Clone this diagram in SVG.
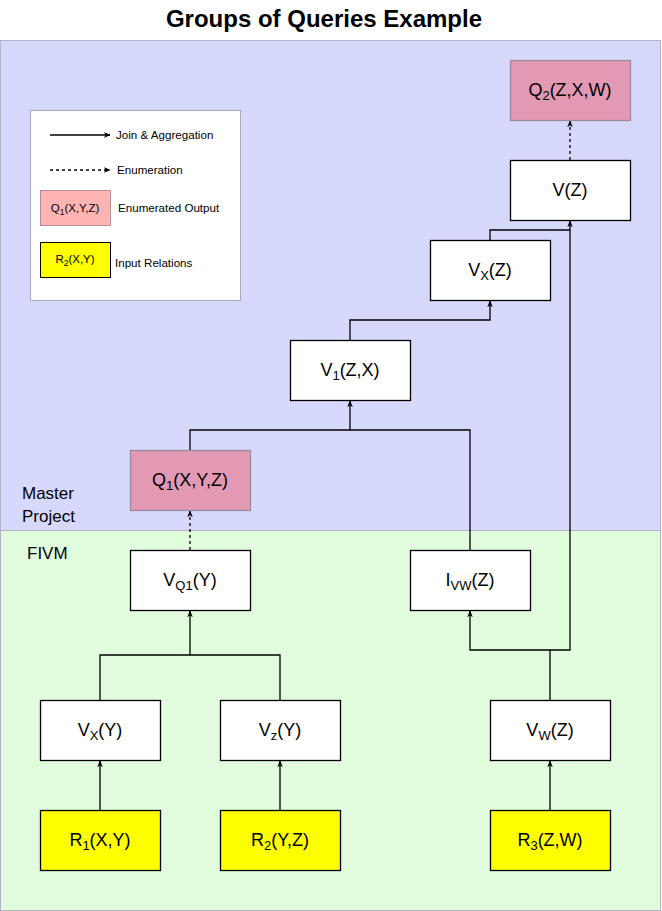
<svg xmlns="http://www.w3.org/2000/svg" width="662" height="911" viewBox="0 0 662 911">
<style>
.t{font-family:"Liberation Sans",Arial,sans-serif;fill:#000}
.nt{font-size:18px;text-anchor:middle}
.sub{font-size:13px}
.box{fill:#fff;stroke:#000;stroke-width:1.3}
.q{fill:#E399B3;stroke:#9a8a9a;stroke-width:1.3}
.r{fill:#FFFF00;stroke:#000;stroke-width:1.3}
.c{fill:none;stroke:#000;stroke-width:1.3}
.d{fill:none;stroke:#000;stroke-width:1.3;stroke-dasharray:3,3}
.lg{font-size:11.6px}
</style>
<defs>
<marker id="ah" viewBox="0 0 10 10" refX="9" refY="5" markerWidth="7" markerHeight="7" orient="auto" markerUnits="userSpaceOnUse">
<path d="M0,1 L10,5 L0,9 L3,5 Z" fill="#000"/>
</marker>
</defs>
<rect x="0" y="0" width="662" height="911" fill="#fff"/>
<text class="t" x="324" y="27" font-size="24" font-weight="bold" text-anchor="middle">Groups of Queries Example</text>
<g id="master">
<rect x="0.5" y="40.5" width="660" height="490" fill="#D7D9FC" stroke="#B0B4C8"/>
<text class="t" x="22" y="499" font-size="17">Master</text>
<text class="t" x="22" y="522" font-size="17">Project</text>
</g>
<g id="fivm">
<rect x="0.5" y="530.5" width="660" height="380" fill="#E0FCDD" stroke="#B0B4C8"/>
<text class="t" x="27" y="559" font-size="17">FIVM</text>
</g>
<g id="legend">
<rect x="30.5" y="110.5" width="210" height="190" fill="#fff" stroke="#A8A8C0"/>
<line class="c" x1="50" y1="135" x2="110" y2="135" marker-end="url(#ah)"/>
<text class="t lg" x="116" y="139">Join &amp; Aggregation</text>
<line class="d" x1="50" y1="170" x2="110" y2="170" marker-end="url(#ah)"/>
<text class="t lg" x="117" y="174">Enumeration</text>
<rect x="40.5" y="190.5" width="70" height="35" fill="#FFB3B3" stroke="#b09090"/>
<text class="t" x="75" y="212" font-size="11.5" text-anchor="middle">Q<tspan dy="3" font-size="8.5">1</tspan><tspan dy="-3">(X,Y,Z)</tspan></text>
<text class="t lg" x="118" y="212">Enumerated Output</text>
<rect x="40.5" y="242.5" width="70" height="35" fill="#FFFF00" stroke="#000"/>
<text class="t" x="75" y="263" font-size="11.5" text-anchor="middle">R<tspan dy="3" font-size="8.5">2</tspan><tspan dy="-3">(X,Y)</tspan></text>
<text class="t lg" x="115" y="267">Input Relations</text>
</g>
<g id="connectors">
<line class="c" x1="100" y1="810" x2="100" y2="761" marker-end="url(#ah)"/>
<line class="c" x1="280" y1="810" x2="280" y2="761" marker-end="url(#ah)"/>
<line class="c" x1="550" y1="810" x2="550" y2="761" marker-end="url(#ah)"/>
<polyline class="c" points="100,700 100,655 280,655 280,700"/>
<line class="c" x1="190" y1="655" x2="190" y2="611" marker-end="url(#ah)"/>
<line class="d" x1="190" y1="550" x2="190" y2="511" marker-end="url(#ah)"/>
<polyline class="c" points="190,450 190,430 470,430 470,550"/>
<line class="c" x1="350" y1="430" x2="350" y2="401" marker-end="url(#ah)"/>
<polyline class="c" points="350,340 350,320 490,320 490,301" marker-end="url(#ah)"/>
<polyline class="c" points="490,240 490,230 570,230"/>
<polyline class="c" points="550,700 550,650 470,650 470,611" marker-end="url(#ah)"/>
<polyline class="c" points="550,650 570,650 570,221" marker-end="url(#ah)"/>
<line class="d" x1="570" y1="160" x2="570" y2="121" marker-end="url(#ah)"/>
</g>
<g id="Q2"><rect class="q" x="510.5" y="60.5" width="120" height="60"/><text class="t nt" x="570" y="96">Q<tspan class="sub" dy="4">2</tspan><tspan dy="-4">(Z,X,W)</tspan></text></g>
<g id="VZ"><rect class="box" x="510.5" y="160.5" width="120" height="60"/><text class="t nt" x="570" y="196">V(Z)</text></g>
<g id="VxZ"><rect class="box" x="430.5" y="240.5" width="120" height="60"/><text class="t nt" x="490" y="276">V<tspan class="sub" dy="4">X</tspan><tspan dy="-4">(Z)</tspan></text></g>
<g id="V1"><rect class="box" x="290.5" y="340.5" width="120" height="60"/><text class="t nt" x="350" y="376">V<tspan class="sub" dy="4">1</tspan><tspan dy="-4">(Z,X)</tspan></text></g>
<g id="Q1"><rect class="q" x="130.5" y="450.5" width="120" height="60"/><text class="t nt" x="190" y="486">Q<tspan class="sub" dy="4">1</tspan><tspan dy="-4">(X,Y,Z)</tspan></text></g>
<g id="VQ1"><rect class="box" x="130.5" y="550.5" width="120" height="60"/><text class="t nt" x="190" y="586">V<tspan class="sub" dy="4">Q1</tspan><tspan dy="-4">(Y)</tspan></text></g>
<g id="IVW"><rect class="box" x="410.5" y="550.5" width="120" height="60"/><text class="t nt" x="470" y="586">I<tspan class="sub" dy="4">VW</tspan><tspan dy="-4">(Z)</tspan></text></g>
<g id="VxY"><rect class="box" x="40.5" y="700.5" width="120" height="60"/><text class="t nt" x="100" y="736">V<tspan class="sub" dy="4">X</tspan><tspan dy="-4">(Y)</tspan></text></g>
<g id="VzY"><rect class="box" x="220.5" y="700.5" width="120" height="60"/><text class="t nt" x="280" y="736">V<tspan class="sub" dy="4">z</tspan><tspan dy="-4">(Y)</tspan></text></g>
<g id="VwZ"><rect class="box" x="490.5" y="700.5" width="120" height="60"/><text class="t nt" x="550" y="736">V<tspan class="sub" dy="4">W</tspan><tspan dy="-4">(Z)</tspan></text></g>
<g id="R1"><rect class="r" x="40.5" y="810.5" width="120" height="60"/><text class="t nt" x="100" y="846">R<tspan class="sub" dy="4">1</tspan><tspan dy="-4">(X,Y)</tspan></text></g>
<g id="R2"><rect class="r" x="220.5" y="810.5" width="120" height="60"/><text class="t nt" x="280" y="846">R<tspan class="sub" dy="4">2</tspan><tspan dy="-4">(Y,Z)</tspan></text></g>
<g id="R3"><rect class="r" x="490.5" y="810.5" width="120" height="60"/><text class="t nt" x="550" y="846">R<tspan class="sub" dy="4">3</tspan><tspan dy="-4">(Z,W)</tspan></text></g>
</svg>
